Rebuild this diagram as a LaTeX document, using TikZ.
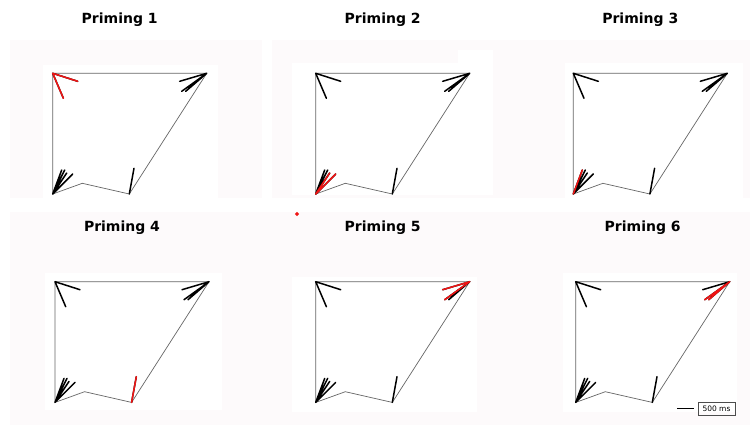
\documentclass[tikz,border=0pt]{standalone}
\usepackage{fontspec}
\setsansfont{DejaVu Sans}
\usetikzlibrary{calc}
\definecolor{tint}{RGB}{253,250,251}
\definecolor{hot}{RGB}{240,20,20}

\begin{document}
\begin{tikzpicture}[x=1pt,y=-1pt,
	edge/.style={draw=black!60,line width=0.7pt},
	spike/.style={line width=1.5pt,line cap=round},
	hot/.style={spike,draw=hot},
	title/.style={font=\sffamily\bfseries\fontsize{14}{16}\selectfont}]
	% 背景
	\useasboundingbox (0,0) rectangle (753,432);
	\fill[tint] (10,40) rectangle (750,198);
	\fill[tint] (10,212) rectangle (750,425);
	\fill[white] (262,40) rectangle (272,198);
	\fill[white] (43,65) rectangle (218,199);
	\fill[white] (292,63) rectangle (493,195);
	\fill[white] (458,50) rectangle (493,63);
	\fill[white] (565,63) rectangle (743,198);
	\fill[white] (45,273) rectangle (222,410);
	\fill[white] (292,277) rectangle (477,412);
	\fill[white] (563,273) rectangle (737,412);
	% 六个图
	\foreach \n/\px/\py in {1/52.7/73.3,2/315.7/73.3,3/573.3/73.3,4/55/281.7,5/315.7/281.7,6/575.7/281.7}{
		\begin{scope}[shift={(\px,\py)}]
			\coordinate (tl\n) at (0,0);
			\coordinate (tr\n) at (154,0);
			\coordinate (br\n) at (76.6,120.7);
			\coordinate (nt\n) at (29.6,110);
			\coordinate (bl\n) at (0,120.7);
			\node[title] (t\n) at (67,-54) {Priming \n};
			\draw[edge] (tl\n) -- (tr\n) -- (br\n) -- (nt\n) -- (bl\n) -- cycle;
			% 短线
			\draw[spike] (tl\n) -- ++(25,8) (tl\n) -- ++(10.7,25);
			\draw[spike] (tr\n) -- ++(-27,8) (tr\n) -- ++(-25,18) (tr\n) -- ++(-21,18) (tr\n) -- ++(-18,15);
			\draw[spike] (bl\n) -- ++(9,-24) (bl\n) -- ++(12,-24) (bl\n) -- ++(14,-21) (bl\n) -- ++(20,-20);
			\draw[spike] (br\n) -- ++(4.7,-25.7);
		\end{scope}
	}
	% 红色短线
	\draw[hot] (tl1) -- ++(25,8) (tl1) -- ++(10.7,25);
	\draw[hot] (bl2) -- ++(14,-21) (bl2) -- ++(20,-20);
	\draw[hot] (bl3) -- ++(9,-24);
	\draw[hot] (br4) -- ++(4.7,-25.7);
	\draw[hot] (tr5) -- ++(-27,8) (tr5) -- ++(-25,18);
	\draw[hot] (tr6) -- ++(-25,18) (tr6) -- ++(-21,18);
	\fill[hot] (297,214) circle (1pt);
	% 比例尺
	\coordinate (sa) at (677,408.3);
	\coordinate (sb) at (694,408.3);
	\draw[line width=1.2pt] (sa) -- (sb);
	\node[draw=black!70,line width=0.5pt,inner sep=0pt,minimum width=37pt,minimum height=13.5pt,font=\sffamily\fontsize{7.5}{8}\selectfont] (scale) at (716.5,408.7) {500 ms};
\end{tikzpicture}
\end{document}
